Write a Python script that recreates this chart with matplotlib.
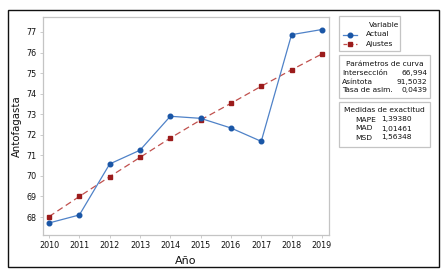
import matplotlib.pyplot as plt
from matplotlib.patches import Rectangle
from matplotlib.lines import Line2D

# data
years = [2010, 2011, 2012, 2013, 2014, 2015, 2016, 2017, 2018, 2019]
actual = [67.71, 68.10, 70.58, 71.25, 72.90, 72.80, 72.33, 71.68, 76.87, 77.12]
fitted = [68.02, 69.00, 69.96, 70.90, 71.84, 72.72, 73.53, 74.36, 75.16, 75.93]

curve_labels = ["Intersección", "Asíntota", "Tasa de asim."]
curve_values = ["66,994", "91,5032", "0,0439"]
acc_labels = ["MAPE", "MAD", "MSD"]
acc_values = ["1,39380", "1,01461", "1,56348"]

blue_pt = "#1a56a6"
blue_ln = "#4f82c8"
red_pt = "#9b1b1b"
red_ln = "#c0504d"
grey = "#c4c4c4"
txt = "#111111"

fig = plt.figure(figsize=(4.48, 2.74), dpi=100)
ax = fig.add_axes([0.096, 0.142, 0.638, 0.796])

ax.plot(years, actual, color=blue_ln, lw=0.9, marker="o", ms=3.3,
        mfc=blue_pt, mec=blue_pt, zorder=3)
ax.plot(years, fitted, color=red_ln, lw=0.9, ls=(0, (5, 3)), marker="s",
        ms=2.6, mfc=red_pt, mec=red_pt, zorder=2)

ax.set_xlim(2009.8, 2019.23)
ax.set_ylim(67.12, 77.73)
ax.set_xticks(years)
ax.set_yticks(range(68, 78))
ax.tick_params(labelsize=5.8, colors=grey, labelcolor=txt, length=2.5, width=0.6, pad=2)
for s in ax.spines.values():
    s.set_color(grey)
    s.set_linewidth(0.9)

ax.set_xlabel("Año", fontsize=8, color=txt, labelpad=4)
ax.set_ylabel("Antofagasta", fontsize=7.3, color=txt, labelpad=3)

# outer frame
fig.patches.append(Rectangle((0.018, 0.0255), 0.962, 0.938, transform=fig.transFigure,
                             fill=False, ec="#111111", lw=1.0))

def px(x, y):
    return x / 448, 1 - y / 274

def box(x0, y0, x1, y1):
    fx0, fy1 = px(x0, y0)
    fx1, fy0 = px(x1, y1)
    fig.patches.append(Rectangle((fx0, fy0), fx1 - fx0, fy1 - fy0, transform=fig.transFigure,
                                 fill=False, ec=grey, lw=0.9))

fs = 5.4

# legend box
box(339, 16, 400, 51)
fig.text(*px(384, 25), "Variable", fontsize=fs, ha="center", va="center", color=txt)
for i, (lab, c_ln, c_pt, ls, mk, ms) in enumerate([
        ("Actual", blue_ln, blue_pt, "-", "o", 3.3),
        ("Ajustes", red_ln, red_pt, (0, (3, 2)), "s", 2.8)]):
    yy = 34.5 + i * 9.5
    x0, y0 = px(343, yy)
    x1, _ = px(357, yy)
    fig.add_artist(Line2D([x0, x1], [y0, y0], transform=fig.transFigure, color=c_ln,
                          lw=0.9, ls=ls))
    fig.add_artist(Line2D([(x0 + x1) / 2], [y0], transform=fig.transFigure, marker=mk,
                          ms=ms, mfc=c_pt, mec=c_pt, ls="none"))
    fig.text(*px(366, yy), lab, fontsize=fs, va="center", color=txt)

# curve parameters
box(339, 55, 430, 98)
fig.text(*px(384.5, 64), "Parámetros de curva", fontsize=fs, ha="center", va="center", color=txt)
for i, (lab, val) in enumerate(zip(curve_labels, curve_values)):
    yy = 73 + i * 8.6
    fig.text(*px(342, yy), lab, fontsize=fs, va="center", color=txt)
    fig.text(*px(427, yy), val, fontsize=fs, ha="right", va="center", color=txt)

# accuracy measures
box(339, 102, 430, 147)
fig.text(*px(384.5, 110), "Medidas de exactitud", fontsize=fs, ha="center", va="center", color=txt)
for i, (lab, val) in enumerate(zip(acc_labels, acc_values)):
    yy = 119.5 + i * 9
    fig.text(*px(355, yy), lab, fontsize=fs, va="center", color=txt)
    fig.text(*px(381, yy), val, fontsize=fs, va="center", color=txt)

fig.savefig("out.png", dpi=100)
